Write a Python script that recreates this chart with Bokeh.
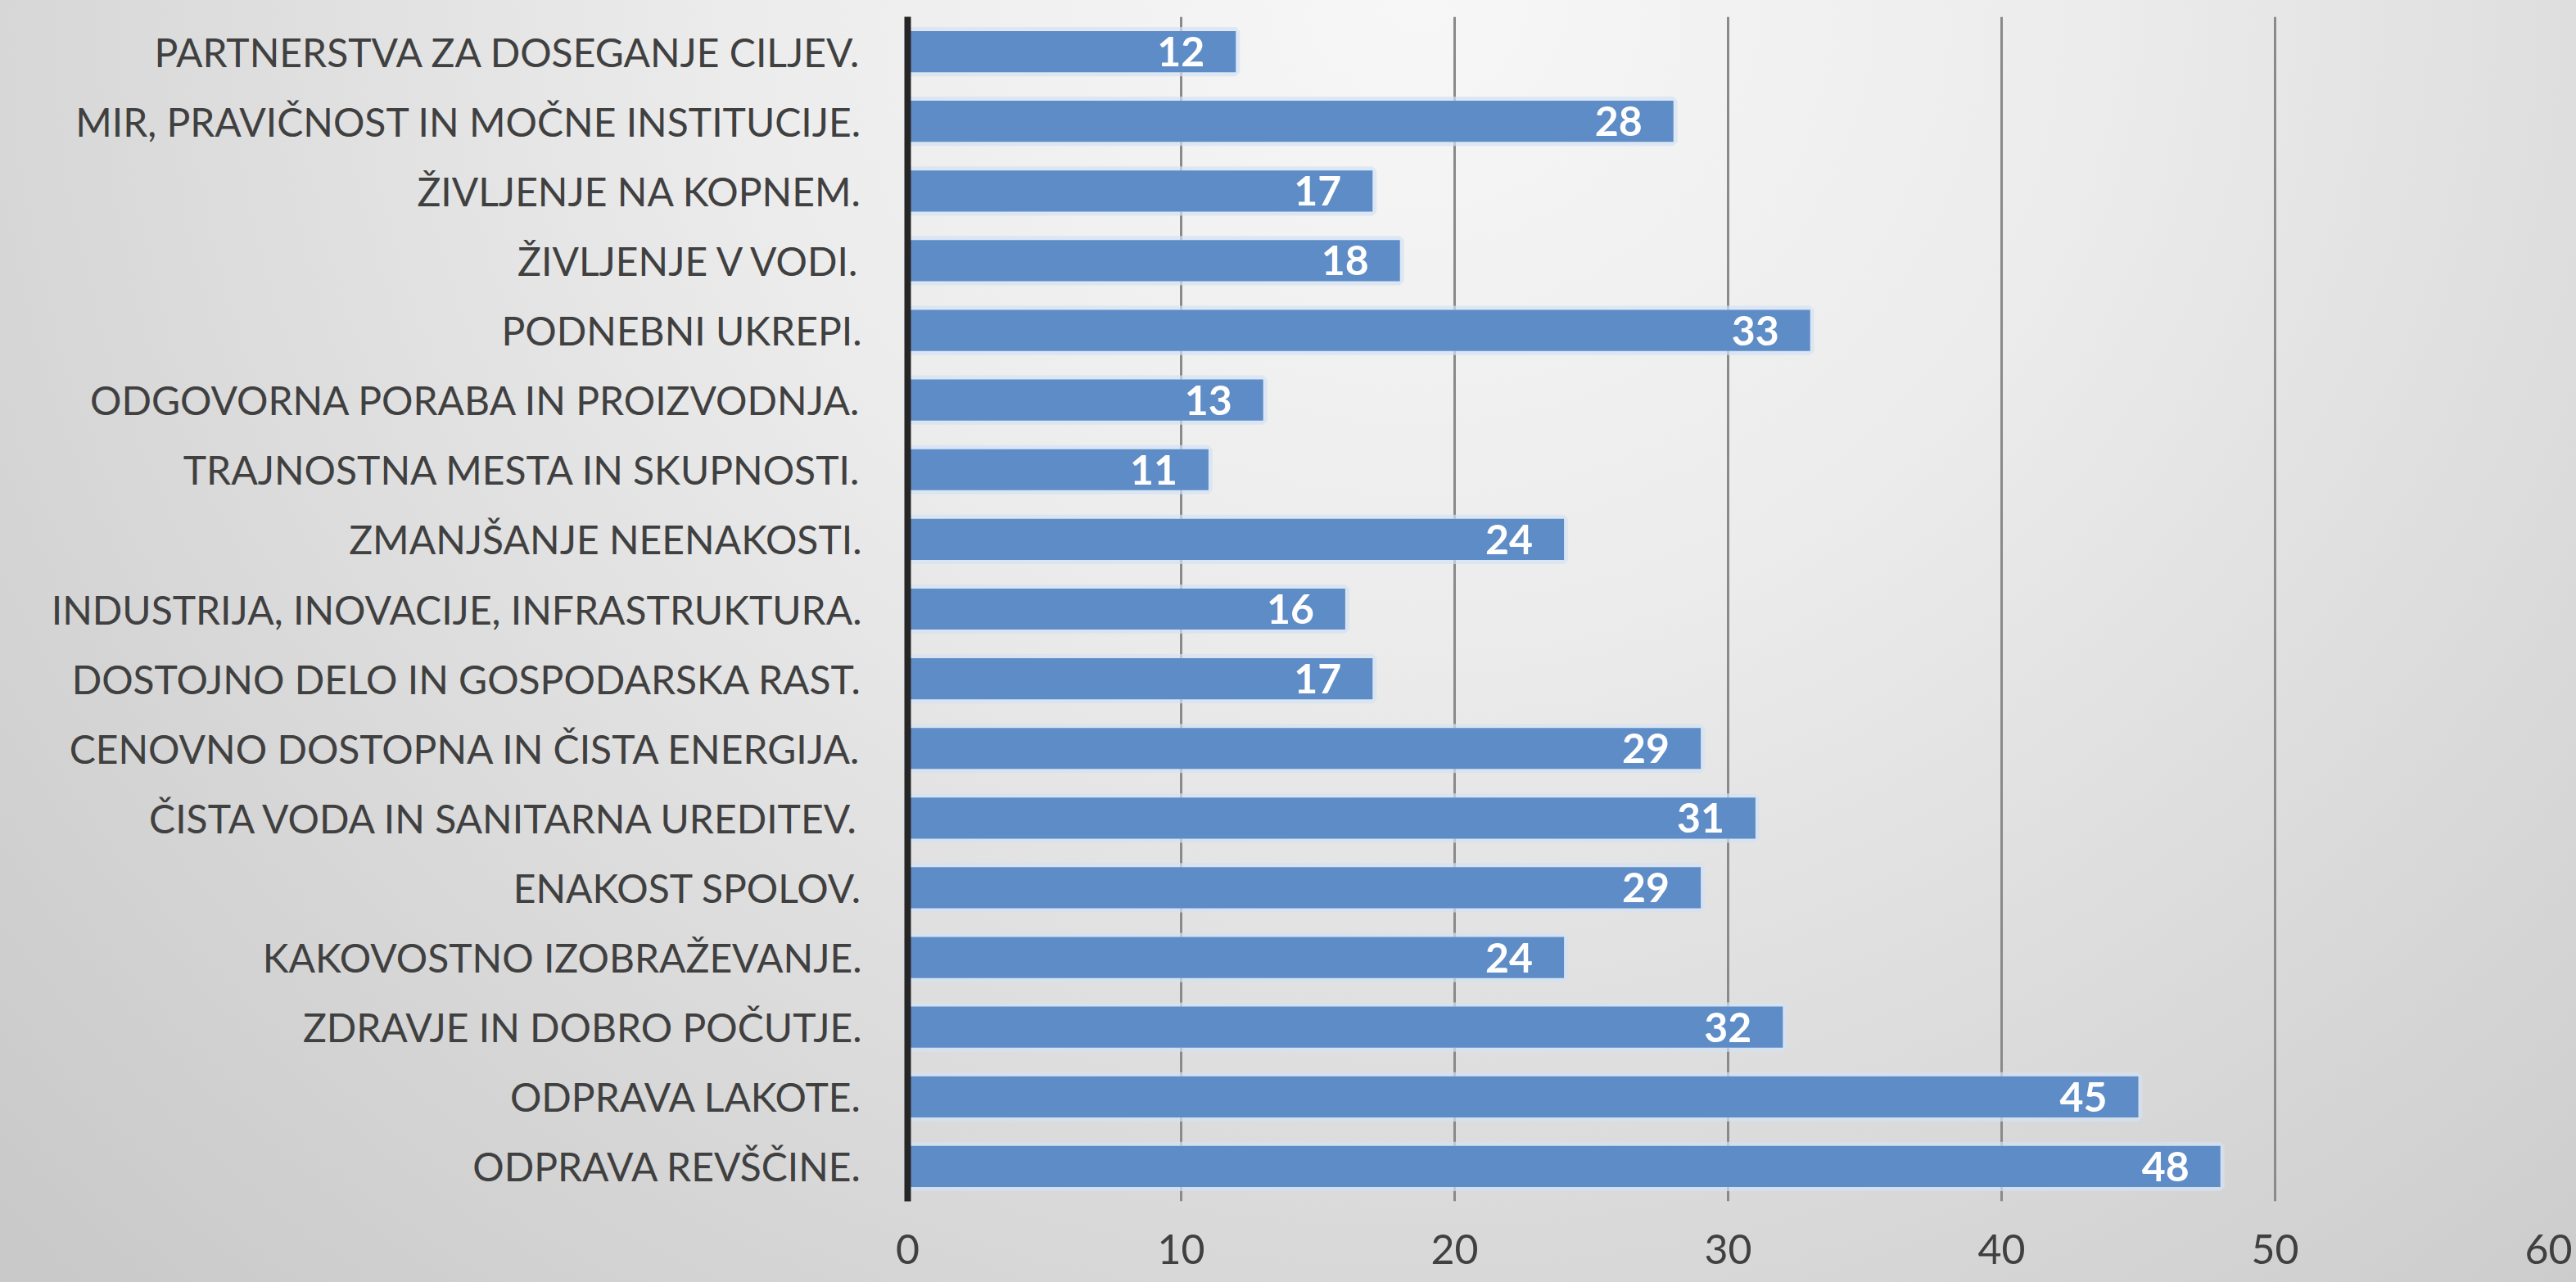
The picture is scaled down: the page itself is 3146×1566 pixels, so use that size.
from bokeh.plotting import figure
from bokeh.models import Range1d, FactorRange, ColumnDataSource, InlineStyleSheet, FixedTicker
from bokeh.core.properties import value
from bokeh.embed import file_html
from bokeh.resources import INLINE

# Data (top to bottom as shown)
categories = [
    "PARTNERSTVA ZA DOSEGANJE CILJEV.",
    "MIR, PRAVIČNOST IN MOČNE INSTITUCIJE.",
    "ŽIVLJENJE NA KOPNEM.",
    "ŽIVLJENJE V VODI.",
    "PODNEBNI UKREPI.",
    "ODGOVORNA PORABA IN PROIZVODNJA.",
    "TRAJNOSTNA MESTA IN SKUPNOSTI.",
    "ZMANJŠANJE NEENAKOSTI.",
    "INDUSTRIJA, INOVACIJE, INFRASTRUKTURA.",
    "DOSTOJNO DELO IN GOSPODARSKA RAST.",
    "CENOVNO DOSTOPNA IN ČISTA ENERGIJA.",
    "ČISTA VODA IN SANITARNA UREDITEV.",
    "ENAKOST SPOLOV.",
    "KAKOVOSTNO IZOBRAŽEVANJE.",
    "ZDRAVJE IN DOBRO POČUTJE.",
    "ODPRAVA LAKOTE.",
    "ODPRAVA REVŠČINE.",
]
counts = [12, 28, 17, 18, 33, 13, 11, 24, 16, 17, 29, 31, 29, 24, 32, 45, 48]
x_ticks = [0, 10, 20, 30, 40, 50, 60]

FONT = "Lato"

source = ColumnDataSource(data=dict(
    cat=categories,
    val=counts,
    lbl=[str(v) for v in counts],
))

bg = InlineStyleSheet(css=""":host {
  background: radial-gradient(ellipse 75% 140% at 55% 0%, #f7f7f7 0%, #ececec 35%, #d6d6d6 75%, #c9c9c9 100%);
}""")

p = figure(
    width=3146, height=1566,
    y_range=FactorRange(factors=list(reversed(categories)), range_padding=0),
    x_range=Range1d(0, 60),
    output_backend="svg", toolbar_location=None,
    min_border_left=1108, min_border_right=34, min_border_top=20, min_border_bottom=99,
)
p.stylesheets = [bg]
p.border_fill_alpha = 0
p.background_fill_alpha = 0
p.outline_line_color = None

# glow behind bars
p.hbar(y="cat", right="val", left=0, height=0.59, source=source,
       fill_color="#d3e3f4", fill_alpha=0.9, line_color="#d3e3f4", line_alpha=0.7, line_width=10)
p.hbar(y="cat", right="val", left=0, height=0.59, source=source,
       fill_color="#5e8cc7", line_color=None)

p.text(x="val", y="cat", text="lbl", source=source,
       x_offset=-38, text_align="right", text_baseline="middle",
       text_color="white", text_font=value(FONT), text_font_style="bold",
       text_font_size="50px")

# grid
p.ygrid.grid_line_color = None
p.xgrid.ticker = FixedTicker(ticks=x_ticks)
p.xgrid.grid_line_color = "#8a8a8a"
p.xgrid.grid_line_width = 3

# x axis
p.xaxis.ticker = FixedTicker(ticks=x_ticks)
p.xaxis.axis_line_color = None
p.xaxis.major_tick_line_color = None
p.xaxis.minor_tick_line_color = None
p.xaxis.major_label_text_font = FONT
p.xaxis.major_label_text_font_size = "50px"
p.xaxis.major_label_text_color = "#404040"
p.xaxis.major_label_standoff = 34

# y axis
p.yaxis.axis_line_color = "#262626"
p.yaxis.axis_line_width = 8
p.yaxis.major_tick_line_color = None
p.yaxis.minor_tick_line_color = None
p.yaxis.major_label_text_font = FONT
p.yaxis.major_label_text_font_size = "48px"
p.yaxis.major_label_text_color = "#404040"
p.yaxis.major_label_standoff = 50

open("out.html", "w").write(file_html(p, INLINE))
